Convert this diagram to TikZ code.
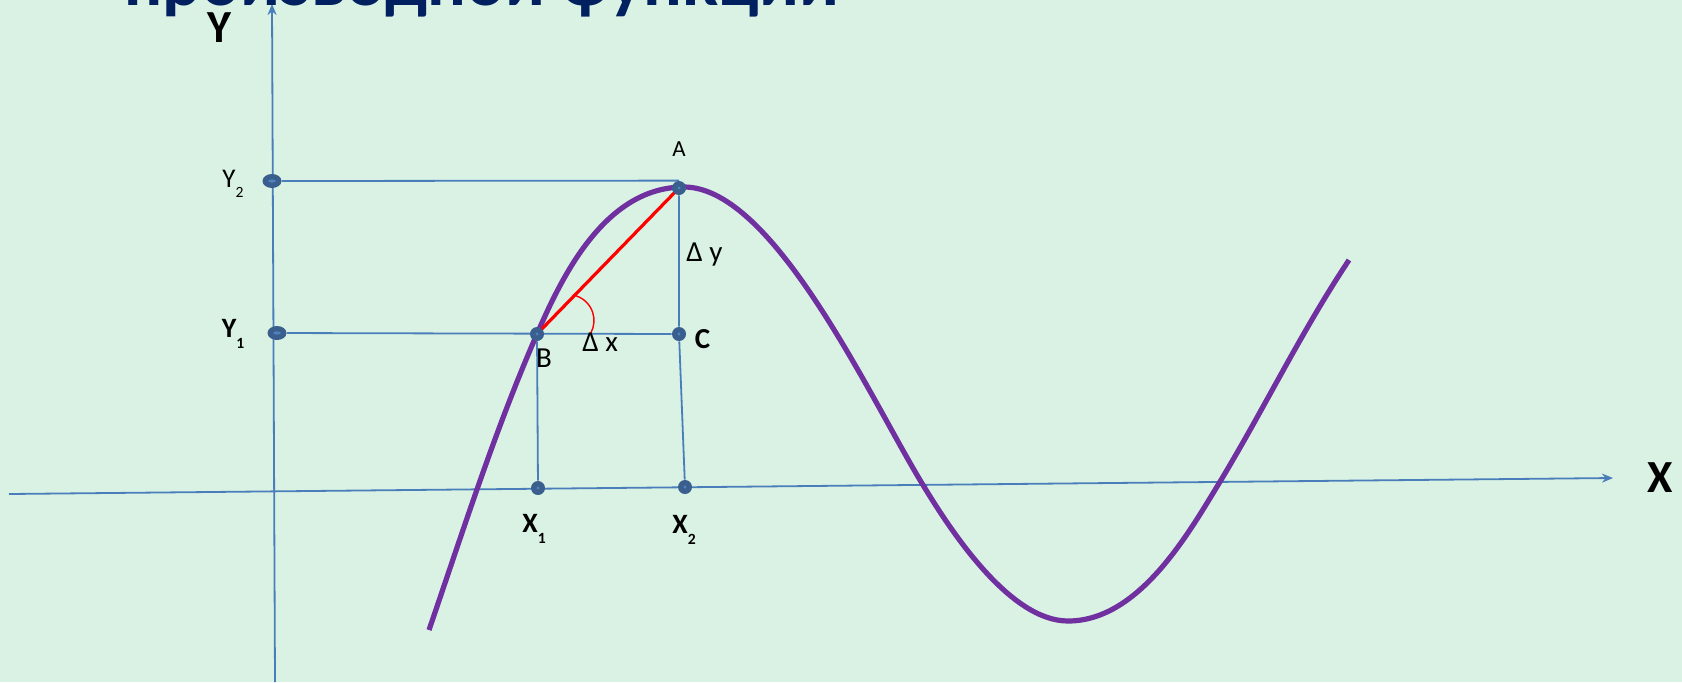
\documentclass[tikz,border=0pt]{standalone}
\usepackage{fontspec}
\setmainfont{Carlito}
\usepackage{tikz}
\usetikzlibrary{arrows.meta,positioning,calc,shapes.geometric,backgrounds}
\definecolor{slidebg}{HTML}{D9F2E4}
\definecolor{axisblue}{HTML}{4A7EBB}
\definecolor{dotblue}{HTML}{3A5F8E}
\definecolor{dotcore}{HTML}{4F81BD}
\definecolor{curvepurple}{HTML}{7030A0}
\definecolor{titlenavy}{HTML}{002060}
\newcommand{\lowidx}[1]{\raisebox{-5.3pt}{\fontsize{7.8}{9}\selectfont #1}}

\begin{document}
\begin{tikzpicture}[
  x=0.5pt,y=-0.5pt,
  every node/.style={inner sep=0pt},
  lbl/.style={font=\fontsize{14.5}{17}\selectfont},
  lblbold/.style={font=\fontsize{14.5}{17}\selectfont\bfseries},
  coordlbl/.style={font=\fontsize{13.5}{16}\selectfont},
  coordlblbold/.style={font=\fontsize{14}{16}\selectfont\bfseries},
  axislbl/.style={font=\fontsize{23}{26}\selectfont\bfseries},
  axis/.style={-{Stealth[length=5.5pt,width=4.5pt]},line width=0.9pt,draw=axisblue},
  guide/.style={line width=0.9pt,draw=axisblue},
  chord/.style={line width=1.6pt,draw=red},
  anglearc/.style={line width=0.7pt,draw=red},
  graph/.style={line width=2.6pt,draw=curvepurple},
  dot/.style={circle,fill=dotblue,minimum size=7pt,
    path picture={\fill[dotcore] (path picture bounding box.center) circle (0.8pt);}},
  ydot/.style={ellipse,fill=dotblue,minimum width=9.5pt,minimum height=7pt,
    path picture={\fill[dotcore] (path picture bounding box.center) ellipse (1.9pt and 0.8pt);}}
]
\useasboundingbox (0,0) rectangle (1682,682);
\clip (0,0) rectangle (1682,682);

% title, cut by the top edge
\node[font=\fontsize{36}{40}\selectfont\bfseries,text=titlenavy,anchor=base west] (title) at (124,5) {производной функции};

% axis ends
\coordinate (ybot) at (275,682);
\coordinate (ytop) at (272,4);
\coordinate (xleft) at (9,494);
\coordinate (xright) at (1613,478);

% points
\node[ydot] (Y2) at (272,181) {};
\node[ydot] (Y1) at (277,333) {};
\node[dot] (A) at (679,188) {};
\node[dot] (B) at (537,334) {};
\node[dot] (C) at (679,334) {};
\node[dot] (X1) at (538,488) {};
\node[dot] (X2) at (685,487) {};

% labels
\node[font=\fontsize{11.5}{14}\selectfont,above=12pt of A] (labA) {A};
\node[lbl,anchor=base] (labB) at (544,367.5) {B};
\node[lblbold,right=4pt of C,yshift=-2.3pt] (labC) {C};
\node[lbl,anchor=base west] (labdy) at (686,261) {Δ y};
\node[lbl,anchor=base west] (labdx) at (582,351.5) {Δ x};
\node[coordlbl,anchor=base west] (labY2) at (222,187) {Y\lowidx{2}};
\node[coordlblbold,anchor=base west] (labY1) at (221.5,337.5) {Y\lowidx{1}};
\node[coordlblbold,anchor=base west] (labX1) at (522,532.5) {X\lowidx{1}};
\node[coordlblbold,anchor=base west] (labX2) at (672,533.5) {X\lowidx{2}};
\node[axislbl,anchor=base west] (labY) at (207,42) {Y};
\node[axislbl,anchor=base west] (labX) at (1647,492) {X};

\begin{scope}[on background layer]
\fill[slidebg] (0,0) rectangle (1682,682);
\draw[axis] (ybot) -- (ytop);
\draw[axis] (xleft) -- (xright);
\draw[guide] (Y2) -- (A.north);
\draw[guide] (Y1) -- (C);
\draw[guide] (B) -- (X1);
\draw[guide] (A) -- (C) -- (X2);
\draw[graph] (429,630) .. controls (463,531) and (495,430) .. (537,334)
  .. controls (561,279) and (604,187) .. (684,187)
  .. controls (774,187) and (871,400) .. (923,485)
  .. controls (951.5,532) and (1010,621) .. (1068,621)
  .. controls (1138,621) and (1187,536) .. (1218,485)
  .. controls (1263,411) and (1301,332) .. (1349,260);
\draw[chord] (B.center) -- (A.center);
\draw[anglearc] ($(B)+(36.4,-38.9)$) arc[start angle=-78,end angle=28,radius=26];
\end{scope}
\end{tikzpicture}
\end{document}
